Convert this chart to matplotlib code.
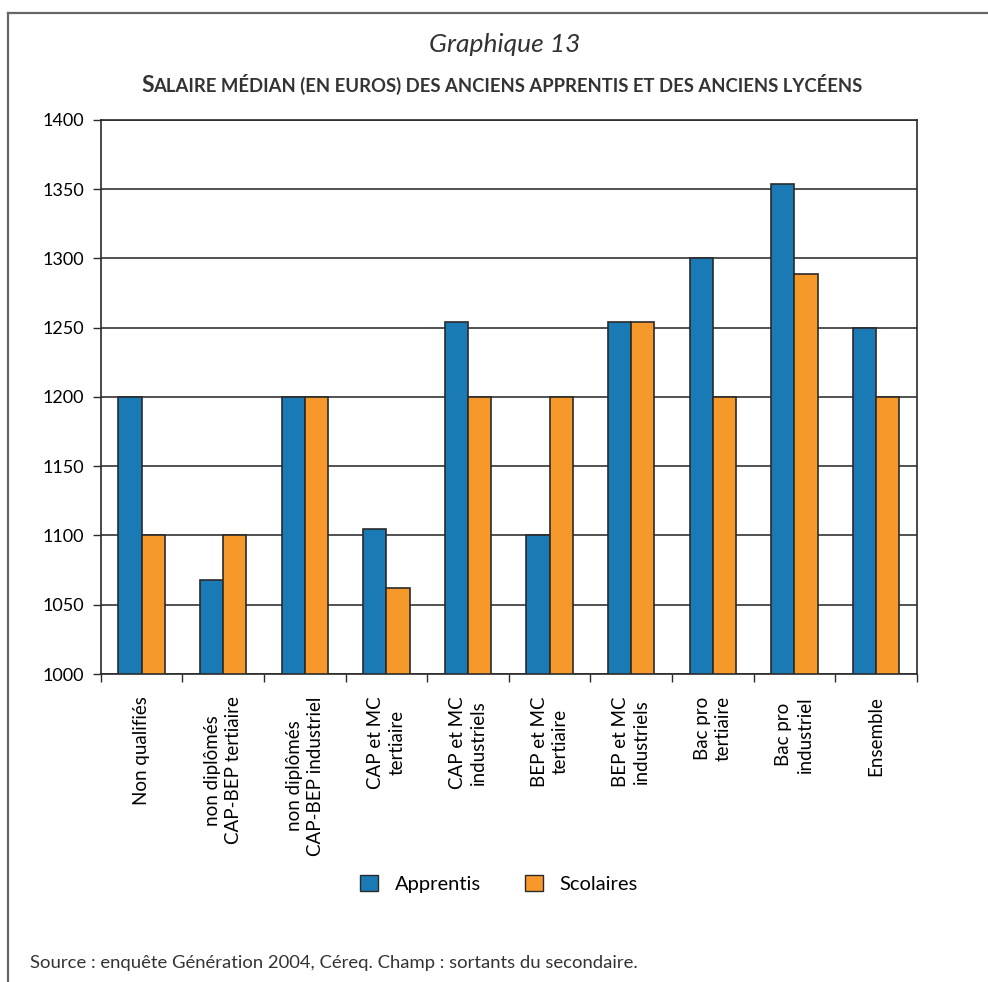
import matplotlib.pyplot as plt
import numpy as np
from matplotlib.lines import Line2D
from matplotlib.patches import Patch

categories = [
    "Non qualifiés",
    "non diplômés\nCAP-BEP tertiaire",
    "non diplômés\nCAP-BEP industriel",
    "CAP et MC\ntertiaire",
    "CAP et MC\nindustriels",
    "BEP et MC\ntertiaire",
    "BEP et MC\nindustriels",
    "Bac pro\ntertiaire",
    "Bac pro\nindustriel",
    "Ensemble",
]
apprentis = [1200, 1068, 1200, 1105, 1254, 1100, 1254, 1300, 1354, 1250]
scolaires = [1100, 1100, 1200, 1062, 1200, 1200, 1254, 1200, 1289, 1200]
y_ticks = [1000, 1050, 1100, 1150, 1200, 1250, 1300, 1350, 1400]

blue = "#1a7ab5"
orange = "#f7992a"
edge = "#2a2a2a"
font = ["Lato", "DejaVu Sans"]

plt.rcParams["font.family"] = font

fig = plt.figure(figsize=(9.88, 9.82), dpi=100)
ax = fig.add_axes([0.102, 0.3136, 0.826, 0.5644])

x = np.arange(len(categories))
w = 0.285
ax.bar(x - w / 2, [v - 1000 for v in apprentis], w, bottom=1000, color=blue,
       edgecolor=edge, linewidth=1.2, zorder=3, label="Apprentis")
ax.bar(x + w / 2, [v - 1000 for v in scolaires], w, bottom=1000, color=orange,
       edgecolor=edge, linewidth=1.2, zorder=3, label="Scolaires")

ax.set_xlim(-0.5, len(categories) - 0.5)
ax.set_ylim(1000, 1400)
ax.set_yticks(y_ticks)
ax.set_yticklabels([str(v) for v in y_ticks], fontsize=13)
ax.yaxis.grid(True, color="#222222", linewidth=1.1, zorder=1)
ax.set_axisbelow(True)

ax.set_xticks(np.arange(len(categories) + 1) - 0.5, minor=False)
ax.set_xticklabels([])
ax.tick_params(axis="x", length=6, width=1, color=edge, direction="out")
ax.tick_params(axis="y", length=6, width=1, color=edge, direction="out", pad=6)
for sp in ax.spines.values():
    sp.set_color(edge)
    sp.set_linewidth(1.2)

# category labels, rotated
for i, lab in enumerate(categories):
    ax.text(i, -0.04, lab, transform=ax.get_xaxis_transform(), rotation=90,
            ha="center", va="top", multialignment="center", fontsize=13.5,
            linespacing=1.3)

# titles
fig.text(0.511, 0.955, "Graphique 13", ha="center", va="center",
         fontsize=19, style="italic", color="#333333")

renderer = fig.canvas.get_renderer()
t1 = fig.text(0, 0.906, "S", fontsize=16.5, fontweight="bold", color="#333333",
              va="baseline")
t2 = fig.text(0, 0.906, "ALAIRE MÉDIAN (EN EUROS) DES ANCIENS APPRENTIS ET DES ANCIENS LYCÉENS",
              fontsize=13.3, fontweight="bold", color="#333333", va="baseline")
w1 = t1.get_window_extent(renderer).width
w2 = t2.get_window_extent(renderer).width
total = (w1 + w2) / fig.bbox.width
x0 = 0.508 - total / 2
t1.set_x(x0)
t2.set_x(x0 + w1 / fig.bbox.width)

# legend
handles = [Patch(facecolor=blue, edgecolor=edge, label="Apprentis"),
           Patch(facecolor=orange, edgecolor=edge, label="Scolaires")]
fig.legend(handles=handles, loc="center", bbox_to_anchor=(0.505, 0.1),
           ncol=2, frameon=False, fontsize=14.5, handlelength=0.9,
           handleheight=0.9, columnspacing=2.2, handletextpad=0.8)

fig.text(0.03, 0.019, "Source : enquête Génération 2004, Céreq. Champ : sortants du secondaire.",
         fontsize=13.3, color="#333333", va="center")

# outer frame (top and left)
fig.add_artist(Line2D([0.008, 1.0], [0.987, 0.987], transform=fig.transFigure,
                      color="#666666", linewidth=1.6))
fig.add_artist(Line2D([0.008, 0.008], [0.0, 0.987], transform=fig.transFigure,
                      color="#666666", linewidth=1.6))

fig.savefig("out.png", dpi=100)
